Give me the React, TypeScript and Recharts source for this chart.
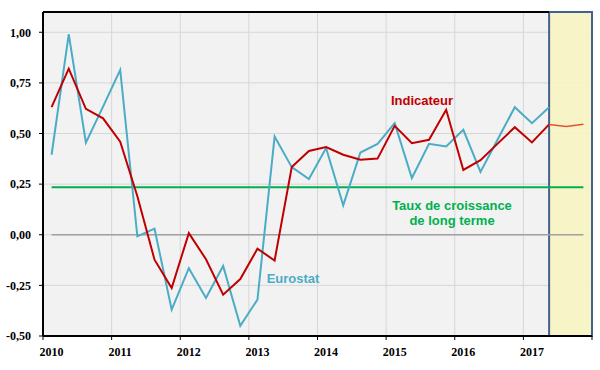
import { LineChart, Line, XAxis, YAxis, CartesianGrid, ReferenceArea, ReferenceLine } from "recharts"

// quarterly categories, 2010 T1 -> 2017 T4
const quarters = [
  "2010T1", "2010T2", "2010T3", "2010T4",
  "2011T1", "2011T2", "2011T3", "2011T4",
  "2012T1", "2012T2", "2012T3", "2012T4",
  "2013T1", "2013T2", "2013T3", "2013T4",
  "2014T1", "2014T2", "2014T3", "2014T4",
  "2015T1", "2015T2", "2015T3", "2015T4",
  "2016T1", "2016T2", "2016T3", "2016T4",
  "2017T1", "2017T2", "2017T3", "2017T4",
]

const eurostat = [
  0.395, 0.99, 0.455, 0.633,
  0.814, -0.008, 0.03, -0.37,
  -0.165, -0.312, -0.154, -0.45,
  -0.32, 0.485, 0.334, 0.275,
  0.428, 0.145, 0.406, 0.449,
  0.551, 0.28, 0.449, 0.436,
  0.518, 0.31, 0.47, 0.63,
  0.551, 0.63,
]

const indicateur = [
  0.63, 0.82, 0.622, 0.575,
  0.46, 0.19, -0.123, -0.263,
  0.008, -0.121, -0.296, -0.219,
  -0.069, -0.127, 0.334, 0.414,
  0.433, 0.395, 0.37, 0.376,
  0.538, 0.452, 0.469, 0.617,
  0.32, 0.368, 0.45, 0.531,
  0.456, 0.545,
]

// forecast, starting from the last observed quarter
const prevision = [0.545, 0.534, 0.546]

const longTermRate = 0.235

const yTicks = [-0.5, -0.25, 0, 0.25, 0.5, 0.75, 1.0]
const yearTicks = [0, 4, 8, 12, 16, 20, 24, 28, 32]
const firstYear = 2010

const forecastStart = indicateur.length - 1

const data = quarters.map((q, i) => ({
  q,
  x: i + 0.5,
  eurostat: i < eurostat.length ? eurostat[i] : null,
  indicateur: i < indicateur.length ? indicateur[i] : null,
  prevision: i >= forecastStart ? prevision[i - forecastStart] : null,
}))

const W = 600
const H = 370
const PLOT_LEFT = 43
const PLOT_RIGHT = 8
const QUARTER_PX = (W - PLOT_LEFT - PLOT_RIGHT) / quarters.length

const serif = "'Liberation Serif', 'Times New Roman', serif"
const sans = "'Liberation Sans', Arial, sans-serif"

const YearTick = (props: any) => {
  const { x, y, payload } = props
  if (payload.value >= quarters.length) return null
  return (
    <text
      x={x + QUARTER_PX / 2}
      y={y}
      dy="0.71em"
      textAnchor="middle"
      fill="#000"
      style={{ fontFamily: serif, fontWeight: "bold", fontSize: 12 }}
    >
      {firstYear + payload.value / 4}
    </text>
  )
}

const fmt = (v: number) => v.toFixed(2).replace(".", ",")

export default function App() {
  return (
    <div style={{ position: "relative", width: W, height: H, background: "#fff" }}>
      <style>{"body{margin:0}"}</style>
      <LineChart width={W} height={H} data={data} margin={{ top: 12, right: PLOT_RIGHT, left: 0, bottom: 0 }}>
        <CartesianGrid stroke="#d6d6d6" fill="#f2f2f2" />
        <ReferenceArea
          x1={forecastStart + 0.5}
          x2={quarters.length}
          y1={-0.5}
          y2={1.1}
          fill="#f7f4c2"
          fillOpacity={0.9}
          stroke="#41628f"
          strokeWidth={2}
        />
        <ReferenceLine
          segment={[{ x: 0, y: 1.1 }, { x: forecastStart + 0.5, y: 1.1 }]}
          stroke="#000"
          strokeWidth={2}
        />
        <ReferenceLine
          segment={[{ x: 0.5, y: 0 }, { x: quarters.length - 0.5, y: 0 }]}
          stroke="#a0a0a0"
          strokeWidth={1.5}
        />
        <ReferenceLine
          segment={[{ x: 0.5, y: longTermRate }, { x: quarters.length - 0.5, y: longTermRate }]}
          stroke="#00b050"
          strokeWidth={2}
        />
        <Line
          type="linear"
          dataKey="eurostat"
          stroke="#4bacc6"
          strokeWidth={2}
          dot={false}
          isAnimationActive={false}
        />
        <Line
          type="linear"
          dataKey="indicateur"
          stroke="#c00000"
          strokeWidth={2}
          dot={false}
          isAnimationActive={false}
        />
        <Line
          type="linear"
          dataKey="prevision"
          stroke="#e2532b"
          strokeWidth={1.5}
          dot={false}
          isAnimationActive={false}
        />
        <XAxis
          type="number"
          dataKey="x"
          domain={[0, quarters.length]}
          ticks={yearTicks}
          interval={0}
          height={34}
          tick={<YearTick />}
          tickSize={4}
          tickMargin={7}
          axisLine={{ stroke: "#000", strokeWidth: 2 }}
          tickLine={{ stroke: "#000" }}
        />
        <YAxis
          type="number"
          domain={[-0.5, 1.1]}
          ticks={yTicks}
          interval={0}
          width={PLOT_LEFT}
          tickFormatter={fmt}
          tickSize={4}
          tickMargin={8}
          allowDataOverflow
          axisLine={{ stroke: "#000", strokeWidth: 2 }}
          tickLine={{ stroke: "#000" }}
          tick={{ fill: "#000", fontFamily: serif, fontWeight: "bold", fontSize: 12 }}
        />
      </LineChart>
      <svg
        width={W}
        height={H}
        style={{ position: "absolute", left: 0, top: 0, pointerEvents: "none" }}
      >
        <g style={{ fontFamily: sans, fontWeight: "bold", fontSize: 13 }} textAnchor="middle">
          <text x={422} y={105} fill="#c00000">Indicateur</text>
          <text x={293} y={283} fill="#4bacc6">Eurostat</text>
          <text x={452} y={210} fill="#00b050">Taux de croissance</text>
          <text x={452} y={225} fill="#00b050">de long terme</text>
        </g>
      </svg>
    </div>
  )
}
